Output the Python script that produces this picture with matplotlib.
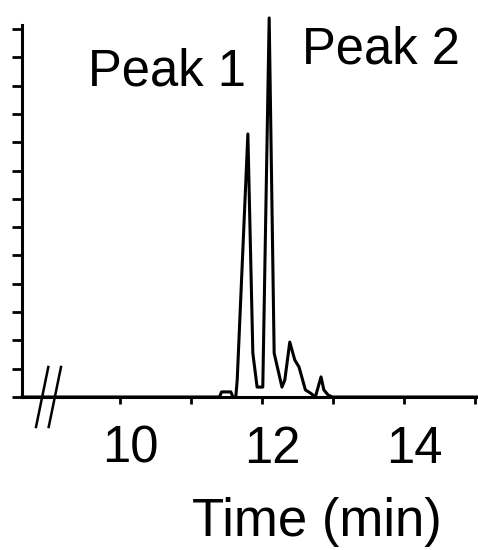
# Chromatogram with two labelled peaks
import matplotlib.pyplot as plt
from matplotlib.lines import Line2D

plt.rcParams['font.family'] = ['Liberation Sans', 'DejaVu Sans']

# Trace (time in min, signal in arbitrary units)
time = [8.62, 11.40, 11.43, 11.50, 11.56, 11.59, 11.63, 11.65, 11.80, 11.87,
        11.93, 12.01, 12.10, 12.17, 12.28, 12.32, 12.39, 12.46, 12.52, 12.61,
        12.68, 12.75, 12.83, 12.87, 12.93, 12.99, 15.04]
signal = [0, 0, 0.18, 0.18, 0.18, 0, 0, 0.6, 9.29, 1.55,
          0.35, 0.35, 13.39, 1.55, 0.35, 0.6, 1.94, 1.31, 1.06, 0.25,
          0.14, 0, 0.71, 0.25, 0.07, 0, 0]

x_ticks = [10, 11, 12, 13, 14, 15]
x_labels = ['10', '12', '14']
x_label_pos = [10.14, 12.14, 14.14]
y_ticks = list(range(14))

fig = plt.figure(figsize=(4.78, 5.5), dpi=100)
ax = fig.add_axes([22 / 478, 153 / 550, 456 / 478, 372 / 550])

ax.plot(time, signal, color='black', lw=2.2, clip_on=False)

ax.set_xlim(8.62, 15.04)
ax.set_ylim(0, 13.14)

ax.spines['top'].set_visible(False)
ax.spines['right'].set_visible(False)
ax.spines['left'].set_linewidth(2.2)
ax.spines['bottom'].set_linewidth(2.2)

# tick marks on the axis, labels placed a little to the right of them
ax.set_xticks(x_ticks, labels=[''] * len(x_ticks))
ax.set_xticks(x_label_pos, labels=x_labels, minor=True)
ax.tick_params(axis='x', which='major', direction='out', length=5, width=2)
ax.tick_params(axis='x', which='minor', length=0, labelsize=36.5, pad=20)

ax.set_yticks(y_ticks, labels=[''] * len(y_ticks))
ax.tick_params(axis='y', direction='out', length=7, width=2)

ax.set_xlabel('Time (min)', fontsize=38, va='baseline')
ax.xaxis.set_label_coords(0.646, -0.374)

fig.text(88 / 478, 1 - 85 / 550, 'Peak 1', fontsize=36.5, va='baseline', ha='left')
fig.text(302 / 478, 1 - 63 / 550, 'Peak 2', fontsize=36.5, va='baseline', ha='left')

# axis break marks
for x0 in (48.3, 61):
    fig.add_artist(Line2D([x0 / 478, (x0 - 12.3) / 478], [1 - 367 / 550, 1 - 427 / 550],
                          transform=fig.transFigure, color='black', lw=1.8))

fig.savefig('out.png', dpi=100)
